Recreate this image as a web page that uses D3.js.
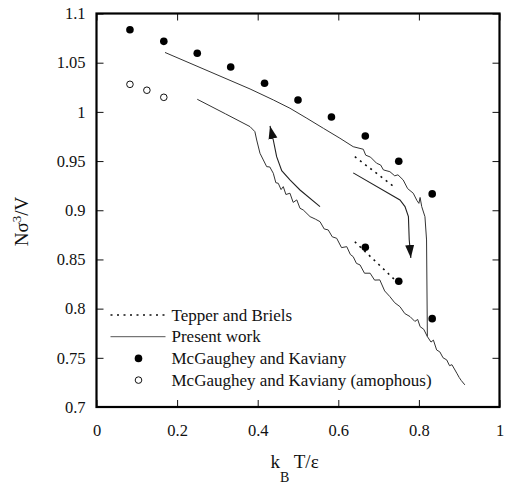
<!DOCTYPE html>
<html>
<head>
<meta charset="utf-8">
<script src="https://cdn.jsdelivr.net/npm/d3@7"></script>
<style>
    body { margin: 0; background: #fff; }
    svg text { font-family: "Liberation Serif", "Tinos", "Times New Roman", "DejaVu Serif", serif !important; fill: #111; }
</style>
</head>
<body>
<div id="chart"></div>
<script>
// McGaughey and Kaviany (crystal)
const mkT = [0.083, 0.167, 0.25, 0.333, 0.417, 0.5, 0.583, 0.667, 0.75, 0.833, 0.667, 0.75, 0.833];
const mkDensity = [1.0835, 1.0717, 1.0596, 1.0456, 1.0291, 1.0121, 0.9948, 0.9755, 0.9498, 0.9166, 0.8624, 0.8278, 0.7898];

// McGaughey and Kaviany (amophous)
const amT = [0.083, 0.125, 0.167];
const amDensity = [1.028, 1.022, 1.0148];

// Tepper and Briels (two dotted segments)
const tepperUpper = [[0.641, 0.9545], [0.740, 0.9234]];
const tepperLower = [[0.641, 0.868], [0.741, 0.829]];

// Present work - heating branch, ends with the melting drop
const presentUpper = [[0.170, 1.0604], [0.381, 1.0233], [0.439, 1.0121], [0.480, 1.0037], [0.522, 0.9935],
    [0.563, 0.9833], [0.604, 0.9732], [0.637, 0.9646], [0.662, 0.9620], [0.668, 0.9560], [0.680, 0.9540],
    [0.695, 0.9478], [0.705, 0.946], [0.712, 0.941], [0.728, 0.9392], [0.740, 0.935], [0.748, 0.936],
    [0.761, 0.9308], [0.772, 0.922], [0.786, 0.9173], [0.795, 0.910], [0.800, 0.907], [0.803, 0.913],
    [0.807, 0.9037], [0.815, 0.8935], [0.819, 0.8698], [0.821, 0.7716]];

// Present work - lower branch
const presentLower = [[0.250, 1.0128], [0.320, 0.998], [0.381, 0.985], [0.393, 0.9799], [0.3975, 0.9714],
    [0.4057, 0.9579], [0.414, 0.9511], [0.4223, 0.9443], [0.430, 0.944], [0.4387, 0.9376], [0.445, 0.928],
    [0.451, 0.9274], [0.458, 0.921], [0.4635, 0.924], [0.470, 0.916], [0.480, 0.9173], [0.488, 0.908],
    [0.497, 0.9105], [0.505, 0.902], [0.513, 0.9003], [0.530, 0.8935], [0.543, 0.891], [0.5546, 0.8884],
    [0.565, 0.881], [0.575, 0.880], [0.585, 0.873], [0.596, 0.8715], [0.608, 0.862], [0.621, 0.863],
    [0.630, 0.855], [0.637, 0.8528], [0.645, 0.846], [0.654, 0.8444], [0.665, 0.836], [0.679, 0.836],
    [0.690, 0.829], [0.703, 0.8292], [0.715, 0.818], [0.728, 0.8122], [0.740, 0.806], [0.753, 0.802],
    [0.765, 0.795], [0.778, 0.7919], [0.790, 0.787], [0.797, 0.789], [0.803, 0.7817], [0.812, 0.779],
    [0.821, 0.7716], [0.830, 0.766], [0.836, 0.768], [0.844, 0.758], [0.852, 0.756], [0.860, 0.750],
    [0.869, 0.7479], [0.876, 0.742], [0.882, 0.743], [0.894, 0.7344], [0.900, 0.730], [0.905, 0.727],
    [0.914, 0.7225]];

// arrows
const coolingArrow = [[0.637, 0.938], [0.753, 0.9105], [0.7655, 0.9037], [0.774, 0.8935], [0.776, 0.870], [0.780, 0.8515]];
const risingArrow = [[0.5546, 0.9037], [0.505, 0.9206], [0.480, 0.9308], [0.4596, 0.9403], [0.447, 0.9545], [0.4387, 0.9714], [0.4305, 0.9857]];

const xTicks = [0, 0.2, 0.4, 0.6, 0.8, 1];
const yTicks = [0.7, 0.75, 0.8, 0.85, 0.9, 0.95, 1, 1.05, 1.1];

const legendLabels = ["Tepper and Briels", "Present work", "McGaughey and Kaviany", "McGaughey and Kaviany (amophous)"];

const serif = "'Liberation Serif', Tinos, 'Times New Roman', 'DejaVu Serif', serif";

const margin = { top: 13.5, right: 8.5, bottom: 80, left: 96.5 };
const w = 508 - margin.left - margin.right;
const h = 487 - margin.top - margin.bottom;

let svg = d3.select("#chart")
    .append("svg")
    .attr("width", 508)
    .attr("height", 487)
    .attr("font-family", serif)
    .append("g")
    .attr("transform", "translate(" + margin.left + "," + margin.top + ")");

const xScale = d3.scaleLinear().domain([0, 1]).range([0, w]);
const yScale = d3.scaleLinear().domain([0.7, 1.1]).range([h, 0]);

svg.append("defs").append("marker")
    .attr("id", "arrow")
    .attr("markerUnits", "userSpaceOnUse")
    .attr("viewBox", "0 -5 14 10")
    .attr("refX", 13)
    .attr("refY", 0)
    .attr("markerWidth", 14)
    .attr("markerHeight", 10)
    .attr("orient", "auto")
    .append("path")
    .attr("d", "M0,-4.5L13,0L0,4.5Z")
    .attr("fill", "#111");

// axes with inward ticks on all four sides
const fmt = d => String(d);
svg.append("g")
    .attr("transform", `translate(0, ${h})`)
    .call(d3.axisBottom(xScale).tickValues(xTicks).tickFormat(fmt).tickSizeInner(-7).tickSizeOuter(0).tickPadding(17));
svg.append("g")
    .call(d3.axisTop(xScale).tickValues(xTicks).tickFormat("").tickSizeInner(-7).tickSizeOuter(0));
svg.append("g")
    .call(d3.axisLeft(yScale).tickValues(yTicks).tickFormat(fmt).tickSizeInner(-7).tickSizeOuter(0).tickPadding(11));
svg.append("g")
    .attr("transform", `translate(${w}, 0)`)
    .call(d3.axisRight(yScale).tickValues(yTicks).tickFormat("").tickSizeInner(-7).tickSizeOuter(0));

svg.selectAll("g").attr("font-family", serif);
svg.selectAll(".tick line").attr("stroke", "#111");
svg.selectAll(".tick text").attr("font-size", 16.5).attr("fill", "#111");
svg.selectAll(".domain").remove();

svg.append("rect")
    .attr("width", w)
    .attr("height", h)
    .attr("fill", "none")
    .attr("stroke", "#000")
    .attr("stroke-width", 2.2);

const line = d3.line().x(d => xScale(d[0])).y(d => yScale(d[1]));

// Tepper and Briels dotted lines
[tepperUpper, tepperLower].forEach(seg => {
    svg.append("path")
        .attr("d", line(seg))
        .attr("fill", "none")
        .attr("stroke", "#111")
        .attr("stroke-width", 1.6)
        .attr("stroke-dasharray", "2,4.5");
});

// present work curves
[presentUpper, presentLower].forEach(seg => {
    svg.append("path")
        .attr("d", line(seg))
        .attr("fill", "none")
        .attr("stroke", "#333")
        .attr("stroke-width", 1);
});

[coolingArrow, risingArrow].forEach(seg => {
    svg.append("path")
        .attr("d", line(seg))
        .attr("fill", "none")
        .attr("stroke", "#222")
        .attr("stroke-width", 1.1)
        .attr("marker-end", "url(#arrow)");
});

// McGaughey and Kaviany points
svg.selectAll(".mk")
    .data(mkT.map((t, i) => [t, mkDensity[i]]))
    .enter().append("circle")
    .attr("class", "mk")
    .attr("cx", d => xScale(d[0]))
    .attr("cy", d => yScale(d[1]))
    .attr("r", 3.8)
    .attr("fill", "#000");

svg.selectAll(".am")
    .data(amT.map((t, i) => [t, amDensity[i]]))
    .enter().append("circle")
    .attr("class", "am")
    .attr("cx", d => xScale(d[0]))
    .attr("cy", d => yScale(d[1]))
    .attr("r", 3.3)
    .attr("fill", "#fff")
    .attr("stroke", "#111")
    .attr("stroke-width", 1);

// legend
const lg = svg.append("g").attr("transform", "translate(14, 301.5)");
const rowH = 21.7;
lg.append("line").attr("x1", 0).attr("x2", 55).attr("y1", 0).attr("y2", 0)
    .attr("stroke", "#111").attr("stroke-width", 1.6).attr("stroke-dasharray", "2,4.5");
lg.append("line").attr("x1", 0).attr("x2", 55).attr("y1", rowH).attr("y2", rowH)
    .attr("stroke", "#555").attr("stroke-width", 1);
lg.append("circle").attr("cx", 28).attr("cy", rowH * 2).attr("r", 3.8).attr("fill", "#000");
lg.append("circle").attr("cx", 28).attr("cy", rowH * 3).attr("r", 3.3)
    .attr("fill", "#fff").attr("stroke", "#111");
legendLabels.forEach((t, i) => {
    lg.append("text")
        .attr("x", 61)
        .attr("y", i * rowH + 5.5)
        .attr("font-size", 17)
        .attr("font-family", serif)
        .text(t);
});

// axis labels
const xl = svg.append("text")
    .attr("x", 174)
    .attr("y", 454.5)
    .attr("font-size", 19)
    .attr("font-family", serif);
xl.append("tspan").text("k");
xl.append("tspan").attr("dy", 14).attr("font-size", 14).text("B");
xl.append("tspan").attr("dy", -14).text(" T/ε");

const yl = svg.append("text")
    .attr("transform", "rotate(-90)")
    .attr("x", -208)
    .attr("y", -68.5)
    .attr("text-anchor", "middle")
    .attr("font-size", 19)
    .attr("font-family", serif);
yl.append("tspan").text("Nσ");
yl.append("tspan").attr("dy", -7).attr("font-size", 13).text("3");
yl.append("tspan").attr("dy", 7).text("/V");
</script>
</body>
</html>
